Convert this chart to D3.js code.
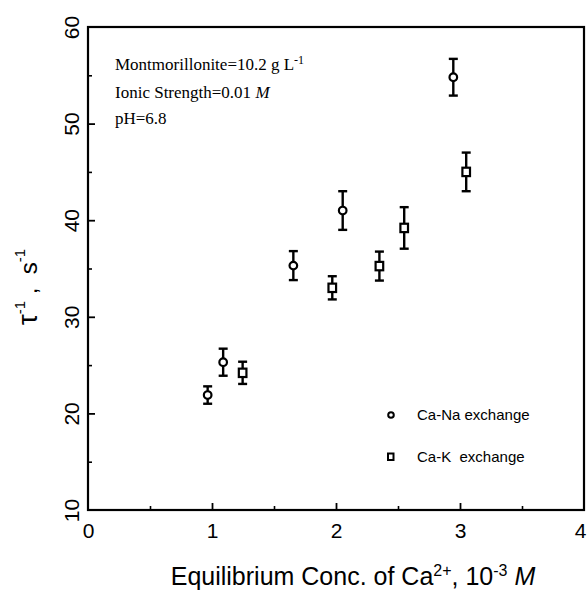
<!DOCTYPE html>
<html><head><meta charset="utf-8">
<script src="https://cdn.jsdelivr.net/npm/d3@7"></script>
<style>body{margin:0;background:#fff}</style>
</head><body>
<svg id="c" width="587" height="591"></svg>
<script>
const naX = [0.965, 1.09, 1.656, 2.054, 2.946];
const naY = [21.9, 25.3, 35.3, 41.0, 54.8];
const naErr = [0.9, 1.4, 1.5, 2.0, 1.9];
const kX = [1.247, 1.97, 2.35, 2.55, 3.05];
const kY = [24.2, 33.0, 35.25, 39.2, 45.0];
const kErr = [1.15, 1.2, 1.5, 2.15, 2.0];
const xTicks = [0, 1, 2, 3, 4];
const yTicks = [10, 20, 30, 40, 50, 60];
const xMinor = [0.5, 1.5, 2.5, 3.5];
const yMinor = [15, 25, 35, 45, 55];

const svg = d3.select('#c');
const L = 88, R = 584, T = 27, B = 510;
const x = d3.scaleLinear().domain([0, 4]).range([L, R]);
const y = d3.scaleLinear().domain([10, 60]).range([B, T]);
const lf = 'Liberation Sans, Arial, sans-serif';
const sf = 'Liberation Serif, Times New Roman, serif';

// frame
svg.append('rect').attr('x', L).attr('y', T).attr('width', R - L).attr('height', B - T)
  .attr('fill', 'none').attr('stroke', '#000').attr('stroke-width', 2.2);

// axes with inward ticks
const gx = svg.append('g').attr('transform', `translate(0,${B})`)
  .call(d3.axisBottom(x).tickValues(xTicks).tickSize(-7).tickPadding(13).tickFormat(d3.format('d')));
gx.select('.domain').remove();
gx.selectAll('line').attr('stroke-width', 1.8);
gx.selectAll('text').attr('font-family', lf).attr('font-size', 21).attr('fill', '#000');
gx.selectAll('.tick').filter(d => d === 4).select('text').attr('x', -4);
gx.selectAll('.tick').filter(d => d === 0 || d === 4).select('line').remove();
const gxm = svg.append('g').attr('transform', `translate(0,${B})`)
  .call(d3.axisBottom(x).tickValues(xMinor).tickSize(-4).tickFormat(''));
gxm.select('.domain').remove();
gxm.selectAll('line').attr('stroke-width', 1.6);

const gy = svg.append('g').attr('transform', `translate(${L},0)`)
  .call(d3.axisLeft(y).tickValues(yTicks).tickSize(-7).tickPadding(0).tickFormat(d3.format('d')));
gy.select('.domain').remove();
gy.selectAll('line').attr('stroke-width', 1.8);
gy.selectAll('.tick').filter(d => d === 10 || d === 60).select('line').remove();
gy.selectAll('text').attr('font-family', lf).attr('font-size', 21).attr('fill', '#000')
  .attr('x', 0).attr('dy', 0)
  .attr('transform', 'translate(-16.5,0) rotate(-90)')
  .attr('text-anchor', 'middle').attr('dominant-baseline', 'central');
const gym = svg.append('g').attr('transform', `translate(${L},0)`)
  .call(d3.axisLeft(y).tickValues(yMinor).tickSize(-4).tickFormat(''));
gym.select('.domain').remove();
gym.selectAll('line').attr('stroke-width', 1.6);

// error bars
function errBars(xs, ys, es) {
  const g = svg.append('g').attr('stroke', '#000').attr('stroke-width', 2.4);
  xs.forEach((xv, i) => {
    const cx = x(xv), y1 = y(ys[i] + es[i]), y2 = y(ys[i] - es[i]);
    g.append('line').attr('x1', cx).attr('x2', cx).attr('y1', y1).attr('y2', y2);
    g.append('line').attr('x1', cx - 4.5).attr('x2', cx + 4.5).attr('y1', y1).attr('y2', y1);
    g.append('line').attr('x1', cx - 4.5).attr('x2', cx + 4.5).attr('y1', y2).attr('y2', y2);
  });
}
errBars(naX, naY, naErr);
errBars(kX, kY, kErr);

svg.append('g').selectAll('circle').data(naX).join('circle')
  .attr('cx', d => x(d)).attr('cy', (d, i) => y(naY[i])).attr('r', 3.8)
  .attr('fill', '#fff').attr('stroke', '#000').attr('stroke-width', 2.2);
svg.append('g').selectAll('rect').data(kX).join('rect')
  .attr('x', d => x(d) - 3.8).attr('y', (d, i) => y(kY[i]) - 4.2).attr('width', 7.6).attr('height', 8.4)
  .attr('fill', '#fff').attr('stroke', '#000').attr('stroke-width', 2.2);

// legend
svg.append('circle').attr('cx', 391).attr('cy', 415).attr('r', 2.8)
  .attr('fill', '#fff').attr('stroke', '#000').attr('stroke-width', 2);
svg.append('rect').attr('x', 388).attr('y', 453.5).attr('width', 5.5).attr('height', 6.5)
  .attr('fill', '#fff').attr('stroke', '#000').attr('stroke-width', 2);
svg.append('text').attr('x', 417).attr('y', 420).attr('font-family', lf).attr('font-size', 15).text('Ca-Na exchange');
svg.append('text').attr('x', 417).attr('y', 462).attr('font-family', lf).attr('font-size', 15)
  .attr('xml:space', 'preserve').style('white-space', 'pre').text('Ca-K  exchange');

// annotations
const a1 = svg.append('text').attr('x', 115).attr('y', 70).attr('font-family', sf).attr('font-size', 17);
a1.append('tspan').text('Montmorillonite=10.2 g L');
a1.append('tspan').attr('font-size', 12).attr('dy', -6).text('-1');
const a2 = svg.append('text').attr('x', 115).attr('y', 98).attr('font-family', sf).attr('font-size', 17);
a2.append('tspan').text('Ionic Strength=0.01 ');
a2.append('tspan').attr('font-style', 'italic').text('M');
svg.append('text').attr('x', 115).attr('y', 124).attr('font-family', sf).attr('font-size', 17).text('pH=6.8');

// x title
const xt = svg.append('text').attr('x', 353).attr('y', 585).attr('text-anchor', 'middle')
  .attr('font-family', lf).attr('font-size', 25);
xt.append('tspan').text('Equilibrium Conc. of Ca');
xt.append('tspan').attr('font-size', 16).attr('dy', -9).text('2+');
xt.append('tspan').attr('dy', 9).text(', 10');
xt.append('tspan').attr('font-size', 16).attr('dy', -9).text('-3');
xt.append('tspan').attr('dy', 9).text(' ');
xt.append('tspan').attr('font-style', 'italic').text('M');

// y title
const yt = svg.append('text').attr('transform', 'translate(37,287) rotate(-90)').attr('text-anchor', 'middle')
  .attr('font-family', lf).attr('font-size', 28).attr('xml:space', 'preserve').style('white-space', 'pre');
yt.append('tspan').text('τ');
yt.append('tspan').attr('font-size', 15).attr('dy', -12).text('-1');
yt.append('tspan').attr('dy', 12).attr('font-size', 24).text(' ,  s');
yt.append('tspan').attr('font-size', 15).attr('dy', -12).text('-1');
</script>
</body></html>
